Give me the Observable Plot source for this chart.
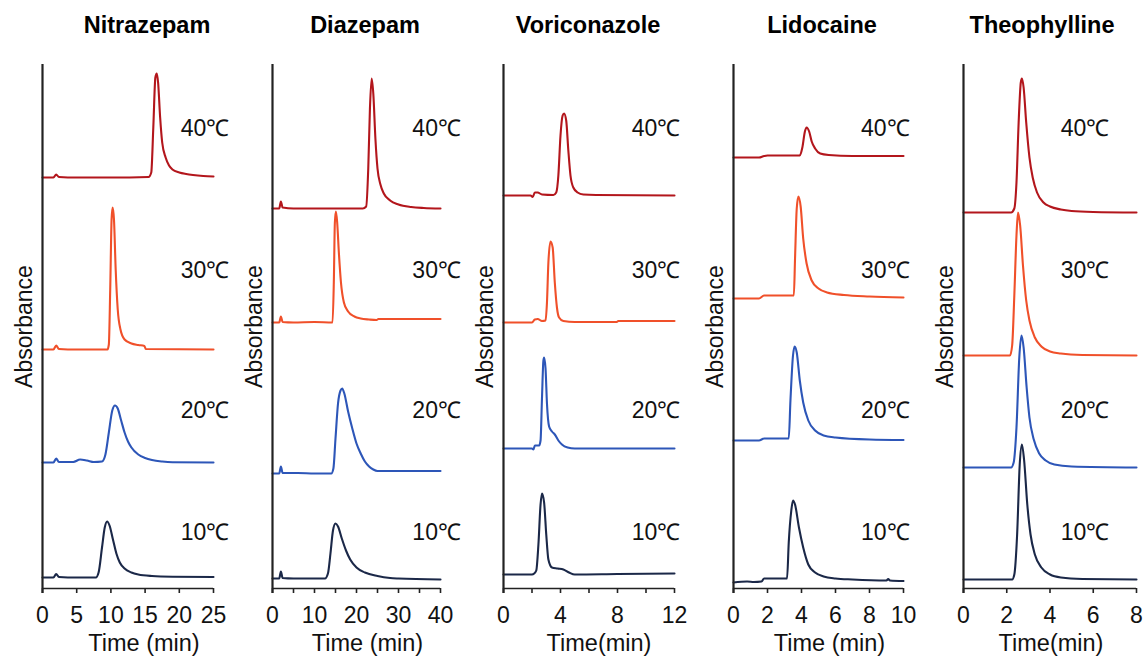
<!DOCTYPE html>
<html><head><meta charset="utf-8">
<script src="https://cdn.jsdelivr.net/npm/d3@7"></script>
<script src="https://cdn.jsdelivr.net/npm/@observablehq/plot@0.6"></script>
<style>
body{margin:0;background:#fff;font-family:"Liberation Sans",Arial,sans-serif;}
#wrap{position:relative;width:1144px;height:661px;overflow:hidden;background:#fff}
.panel{position:absolute;top:0;width:230px;height:661px}
.title{position:absolute;top:0;height:50px;line-height:50px;font-weight:bold;font-size:23.5px;white-space:nowrap;transform:translateX(-50%);color:#000}
.panel svg{position:absolute;top:50px;left:0;overflow:visible;background:transparent}
</style></head><body><div id="wrap"></div><script>
// ---------- data (time in min, signal above each trace's own baseline, arbitrary units) ----------
const temperatures = ["40℃", "30℃", "20℃", "10℃"];
const compounds = ["Nitrazepam", "Diazepam", "Voriconazole", "Lidocaine", "Theophylline"];
const axisTitles = ["Time (min)", "Time (min)", "Time(min)", "Time (min)", "Time(min)"];

// baseline offsets for stacking, order 40,30,20,10
const nitrazepamOffsets = [411, 239, 126, 11];
const diazepamOffsets = [380, 266, 115, 10];
const voriconazoleOffsets = [393, 266, 140, 14];
const lidocaineOffsets = [431, 290, 148, 6];
const theophyllineOffsets = [376, 233, 121, 9];

const nitrazepam40 = [[0,0],[1.6,0],[2,3],[2.4,0.5],[5,0],[10,0],[15.5,0.5],[15.9,5],[16.2,50],[16.5,100],[16.7,104],[16.9,95],[17.2,60],[17.5,35],[18,20],[18.5,12],[19,8],[20,5],[21,3.5],[22,2.5],[23.5,1.5],[25,1]];
const nitrazepam30 = [[0,0],[1.6,0],[2,4],[2.4,0.5],[5,0],[9.5,0],[9.7,5],[9.9,60],[10.1,130],[10.25,142],[10.45,130],[10.7,80],[11,40],[11.4,20],[12,10],[13,6],[14,4.5],[14.9,3.5],[15.1,0.5],[25,0]];
const nitrazepam20 = [[0,0],[1.6,0],[2,4],[2.4,0.5],[4.5,0.5],[5.5,3],[6.5,2],[7.5,0.5],[8.7,1],[9.2,8],[9.7,30],[10.2,52],[10.6,57],[11,54],[11.5,42],[12,30],[12.5,21],[13,15],[14,8],[15,4.5],[16,2.5],[17.5,1],[19,0.3],[25,0]];
const nitrazepam10 = [[0,0],[1.6,0],[2,3.5],[2.4,0.5],[5,0],[7.8,0],[8.2,5],[8.7,30],[9.1,50],[9.45,56],[9.8,52],[10.3,38],[10.8,24],[11.3,15],[12,9],[13,5],[14,3],[16,1.5],[19,0.8],[25,0.5]];

const diazepam40 = [[0,0],[1.6,0],[2,7],[2.4,1],[5,0],[15,0],[21.5,0],[22.3,2],[22.8,40],[23.2,100],[23.6,130],[24,115],[24.5,70],[25,40],[25.7,24],[26.5,15],[28,8],[30,4],[33,1.5],[36,0.5],[40,0]];
const diazepam30 = [[0,0],[1.6,0],[2,6],[2.4,0.5],[5,0],[10,0.5],[14.3,0],[14.6,40],[14.85,100],[15.1,111],[15.4,100],[15.8,70],[16.3,40],[17,20],[18,11],[19.5,6],[21,4],[23,3],[24.8,2.5],[25.2,3.5],[40,3.5]];
const diazepam20 = [[0,0],[1.6,0],[2,7],[2.4,0.5],[6,0.5],[10,0],[14,0],[14.5,5],[15,35],[15.6,70],[16.2,83],[16.6,85],[17.1,80],[18,62],[19,45],[20,30],[21,20],[22,12],[23,7],[24,4],[25,2.5],[27,2.5],[40,2.5]];
const diazepam10 = [[0,0],[1.6,0],[2,7],[2.4,0.5],[5,0],[12.5,0],[13.2,5],[13.8,25],[14.4,48],[15,55],[15.6,52],[16.5,40],[17.5,28],[18.5,19],[20,11],[22,6],[25,2.5],[28,0.5],[30,0],[40,-1]];

const voriconazole40 = [[0,0],[1.9,0],[2.05,-1.5],[2.2,3],[2.4,3],[2.7,1],[3.5,0.5],[3.7,3],[3.85,20],[4.0,60],[4.15,80],[4.25,82],[4.4,75],[4.55,45],[4.7,20],[4.9,8],[5.2,3],[5.6,1],[6.5,0.5],[12,0]];
const voriconazole30 = [[0,0],[2.0,0],[2.2,3],[2.4,3.5],[2.7,1.5],[2.95,2],[3.05,20],[3.15,60],[3.3,81],[3.45,75],[3.6,40],[3.75,15],[3.9,5],[4.2,1.5],[5,0.5],[7.95,0.5],[8.05,1.5],[12,1.5]];
const voriconazole20 = [[0,0],[2.0,0],[2.1,-1],[2.2,3],[2.5,3],[2.6,8],[2.7,50],[2.8,88],[2.85,91],[2.95,80],[3.05,45],[3.2,22],[3.4,17],[3.6,14],[3.85,8],[4.1,4],[4.5,1],[5,0],[12,0]];
const voriconazole10 = [[0,0],[2.0,0],[2.15,1],[2.3,4],[2.45,30],[2.6,70],[2.7,81],[2.85,72],[3.0,40],[3.15,15],[3.4,7],[3.8,6],[4.2,5],[4.6,2],[5,0],[8,0.5],[12,1]];

const lidocaine40 = [[0,0],[1.5,0],[1.8,1.5],[2.0,2],[3.9,2],[4.05,10],[4.2,26],[4.3,30],[4.45,26],[4.6,16],[4.8,9],[5.1,4],[5.6,2.5],[7,1.5],[10,1.5]];
const lidocaine30 = [[0,0],[1.5,0],[1.8,3],[3.55,3],[3.62,40],[3.72,90],[3.82,102],[3.95,92],[4.1,60],[4.3,35],[4.6,18],[5,10],[5.5,6],[6.5,3.5],[8,2],[10,1]];
const lidocaine20 = [[0,0],[1.5,0],[1.8,2],[3.25,2],[3.35,40],[3.5,85],[3.6,94],[3.72,88],[3.9,60],[4.1,38],[4.4,20],[4.8,10],[5.3,5],[6,3],[8,1],[10,0.5]];
const lidocaine10 = [[0,0],[0.8,1],[1.2,0.5],[1.65,1],[1.8,4],[3.15,4],[3.25,40],[3.4,72],[3.5,82],[3.62,78],[3.85,55],[4.1,35],[4.4,18],[4.8,10],[5.3,6],[6,4],[7,3],[9,2],[9.1,3.5],[9.2,2],[10,1.5]];

const theophylline40 = [[0,0],[2.2,0],[2.35,4],[2.45,30],[2.55,90],[2.65,130],[2.7,134],[2.78,125],[2.9,90],[3.05,55],[3.2,35],[3.4,20],[3.7,10],[4.0,6],[4.5,3],[5,1.5],[6,0.5],[8,0]];
const theophylline30 = [[0,0],[2.15,0],[2.25,10],[2.35,60],[2.45,120],[2.52,143],[2.62,130],[2.75,90],[2.9,55],[3.05,35],[3.3,18],[3.6,9],[4,4],[4.5,2],[5.5,0.5],[8,0]];
const theophylline20 = [[0,0],[2.2,0],[2.32,5],[2.45,40],[2.58,110],[2.68,132],[2.78,120],[2.92,80],[3.05,50],[3.25,28],[3.5,14],[3.8,7],[4.2,3],[5,1],[8,0]];
const theophylline10 = [[0,0],[2.25,0],[2.35,5],[2.48,45],[2.6,115],[2.7,135],[2.8,120],[2.95,75],[3.1,45],[3.3,25],[3.6,12],[4,5],[4.5,2],[5.5,0.5],[8,0]];

// x-axis tick values and tick labels
const nitrazepamTicks = [0,5,10,15,20,25], nitrazepamLabels = [0,5,10,15,20,25];
const diazepamTicks = [0,5,10,15,20,25,30,35,40], diazepamLabels = [0,10,20,30,40];
const voriconazoleTicks = [0,2,4,6,8,10,12], voriconazoleLabels = [0,4,8,12];
const lidocaineTicks = [0,2,4,6,8,10], lidocaineLabels = [0,2,4,6,8,10];
const theophyllineTicks = [0,2,4,6,8], theophyllineLabels = [0,2,4,6,8];

// ---------- styling / layout ----------
const colors = ["#b3161c", "#f0502a", "#2d56b8", "#1b2848"];
const series = [
  {traces:[nitrazepam40,nitrazepam30,nitrazepam20,nitrazepam10], offsets:nitrazepamOffsets, ticks:nitrazepamTicks, labels:nitrazepamLabels},
  {traces:[diazepam40,diazepam30,diazepam20,diazepam10], offsets:diazepamOffsets, ticks:diazepamTicks, labels:diazepamLabels},
  {traces:[voriconazole40,voriconazole30,voriconazole20,voriconazole10], offsets:voriconazoleOffsets, ticks:voriconazoleTicks, labels:voriconazoleLabels},
  {traces:[lidocaine40,lidocaine30,lidocaine20,lidocaine10], offsets:lidocaineOffsets, ticks:lidocaineTicks, labels:lidocaineLabels},
  {traces:[theophylline40,theophylline30,theophylline20,theophylline10], offsets:theophyllineOffsets, ticks:theophyllineTicks, labels:theophyllineLabels}
];
const layout = [
  {left:0,   ml:42, mr:17, titleX:147, tempX:20.2, titleDx:16},
  {left:230, ml:42, mr:20, titleX:135, tempX:33.3, titleDx:11},
  {left:460, ml:43, mr:16, titleX:128, tempX:9.0, titleDx:10},
  {left:690, ml:43, mr:17, titleX:132, tempX:7.5, titleDx:11},
  {left:920, ml:43, mr:14, titleX:122, tempX:4.5, titleDx:1}
];
const tempLabelY = [460, 318, 178, 56];
const axisColor = "#222";
const wrap = document.getElementById("wrap");

compounds.forEach((name, i) => {
  const s = series[i], L = layout[i];
  const rows = [];
  s.traces.forEach((tr, k) => tr.forEach(([t, a]) => rows.push({t, v: a + s.offsets[k], temp: temperatures[k]})));
  const xmax = s.ticks[s.ticks.length - 1];
  const plot = Plot.plot({
    width: 230, height: 611,
    marginLeft: L.ml, marginRight: L.mr, marginTop: 14, marginBottom: 73,
    x: {domain: [0, xmax], axis: null},
    y: {domain: [0, 524], axis: null},
    color: {domain: temperatures, range: colors},
    style: {fontFamily: "'Liberation Sans', Arial, sans-serif", fontSize: "22px", overflow: "visible", color: "#111"},
    marks: [
      Plot.line(rows, {x: "t", y: "v", z: "temp", stroke: "temp", strokeWidth: 2.1, curve: "monotone-x"}),
      Plot.ruleY([0], {stroke: axisColor, strokeWidth: 1.6}),
      Plot.ruleX([0], {stroke: axisColor, strokeWidth: 2.2, insetBottom: -5}),
      Plot.axisX({ticks: s.ticks, tickSize: 5, tickFormat: () => "", label: null, stroke: axisColor, strokeWidth: 1.6}),
      Plot.axisX({ticks: s.labels, tickSize: 0, tickPadding: 18, label: null, fontSize: 23, fill: "#111"}),
      Plot.text([axisTitles[i]], {frameAnchor: "bottom", dy: 46, dx: L.titleDx, lineAnchor: "top", textAnchor: "middle", fontSize: 23.5, fill: "#111"}),
      Plot.text(["Absorbance"], {frameAnchor: "left", dx: -18, rotate: -90, textAnchor: "middle", lineAnchor: "middle", fontSize: 23, fill: "#111"}),
      Plot.text(temperatures, {x: () => L.tempX, y: (d, j) => tempLabelY[j], text: d => d, textAnchor: "start", fontSize: 23, fill: "#111"})
    ]
  });
  const panel = document.createElement("div");
  panel.className = "panel";
  panel.style.left = L.left + "px";
  const title = document.createElement("div");
  title.className = "title";
  title.style.left = L.titleX + "px";
  title.textContent = name;
  panel.appendChild(title);
  panel.appendChild(plot);
  wrap.appendChild(panel);
});
</script></body></html>
